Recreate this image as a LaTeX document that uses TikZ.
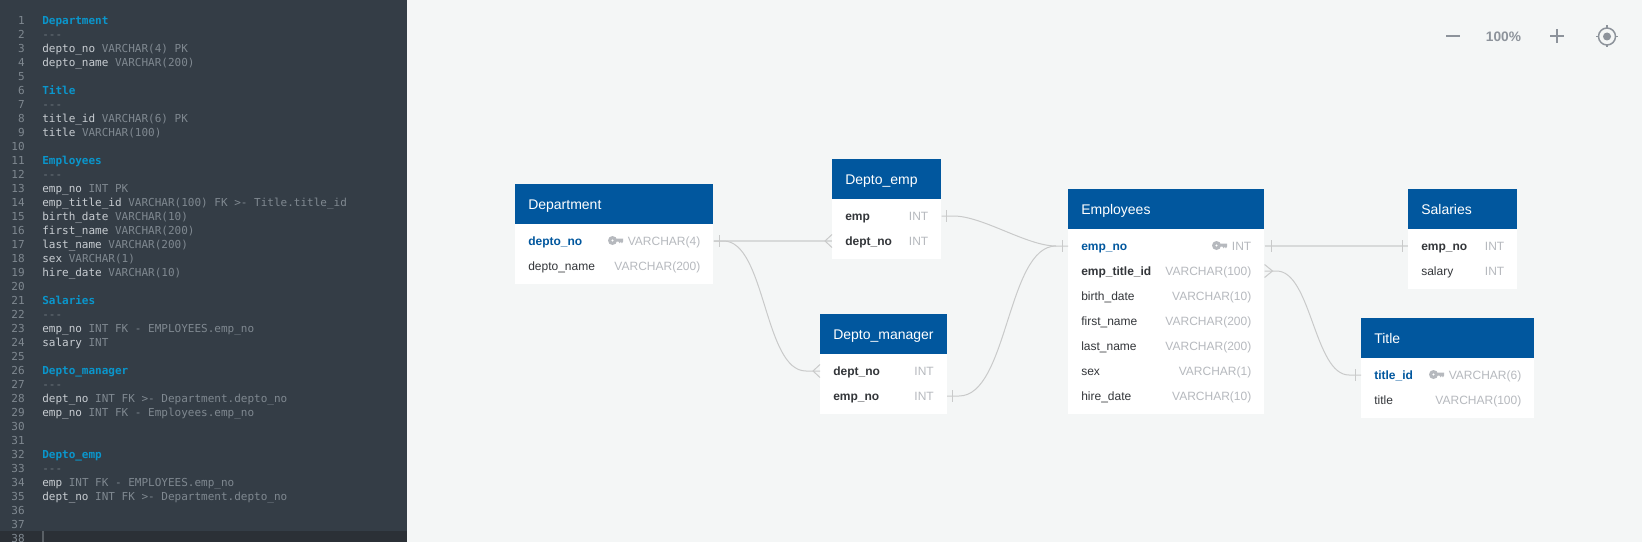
\documentclass[tikz,border=0pt]{standalone}
\usepackage{fontspec}
\setmainfont{Liberation Sans}
\newfontfamily\codefont{DejaVu Sans Mono}
\usetikzlibrary{arrows.meta,calc}
\definecolor{panelGri}{HTML}{343D46}
\definecolor{satirGri}{HTML}{2B3036}
\definecolor{zeminGri}{HTML}{F4F6F6}
\definecolor{baslikMavi}{HTML}{01579E}
\definecolor{kodMavi}{HTML}{0A96CC}
\definecolor{kodAcik}{HTML}{C8CDD2}
\definecolor{kodGri}{HTML}{7F8890}
\definecolor{tipGri}{HTML}{B6B9BE}
\definecolor{yaziKoyu}{HTML}{33363A}
\definecolor{hatGri}{HTML}{C9CACA}
\definecolor{duzHat}{HTML}{D8DADA}
\definecolor{aracGri}{HTML}{8D939B}
\def\px{0.75pt}
\tikzset{
  tblhead/.style={fill=baslikMavi,text=white,anchor=north west,inner ysep=0pt,inner xsep=13*\px,
    minimum height=40*\px,text width=(#1-26)*\px,align=left,text height=8.25pt,text depth=0.75pt,
    font=\fontsize{10.5pt}{12pt}\selectfont},
  tblbody/.style={fill=white,anchor=north west,inner sep=0pt,minimum width=#1*\px},
  rowbox/.style={anchor=west,inner sep=0pt,minimum width=#1*\px,minimum height=25*\px},
  rowtext/.style={inner sep=0pt,text height=7.2pt,text depth=1.05pt,font=\fontsize{9pt}{11pt}\selectfont},
  rowname/.style={rowtext,anchor=west,text=yaziKoyu},
  rowref/.style={rowname,font=\fontsize{9pt}{11pt}\selectfont\bfseries},
  rowkey/.style={rowref,text=baslikMavi},
  rowtype/.style={rowtext,anchor=east,text=tipGri},
  conn/.style={draw=hatGri,line width=\px},
  connflat/.style={draw=duzHat,line width=1.5*\px},
  codeline/.style={anchor=base west,inner sep=0pt,text=kodGri,font=\fontsize{8.25pt}{10pt}\codefont},
  linenum/.style={anchor=base east,inner sep=0pt,text=kodGri,font=\fontsize{8.25pt}{10pt}\codefont},
  keyicon/.pic={
    \fill[tipGri,even odd rule] (4.5,0) circle (4.5) (4.5,0) circle (1.4);
    \fill[tipGri] (8,-2) -- (15,-2) -- (15,1.2) -- (13.9,2.8) -- (12.8,1.2) -- (11.7,2.8) -- (10.6,1.2) -- (8,1.2) -- cycle;
  }
}
% #1 name, #2 x, #3 y, #4 width, #5 title, #6 rows
\newcommand{\ertable}[6]{
  \node[tblhead=#4] (#1Head) at (#2,#3) {#5};
  \foreach \i/\nm/\ty/\sty in {#6} {\global\let\rowcount\i}
  \node[tblbody=#4,minimum height={(10+25*\rowcount)*\px}] (#1Body) at (#2,#3+40) {};
  \foreach \i/\nm/\ty/\sty in {#6} {
    \node[rowbox=#4] (#1\i) at (#2,{#3+57+25*(\i-1)}) {};
    \node[\sty] (#1Name\i) at ($(#1\i.west)+(13,0)$) {\nm};
    \node[rowtype] (#1Type\i) at ($(#1\i.east)+(-13,0)$) {\ty};
  }
}
\begin{document}
\begin{tikzpicture}[x=\px,y=-\px]
\useasboundingbox (0,0) rectangle (1642,542);
\fill[zeminGri] (0,0) rectangle (1642,542);
\fill[panelGri] (0,0) rectangle (407,542);
\fill[satirGri] (0,531) rectangle (407,542);
\fill[kodGri!70!black] (42,531) rectangle (44,542);

% kod satirlari
\foreach \n in {1,...,38} \node[linenum] (num\n) at (25,{24.5+14*(\n-1)}) {\n};
\foreach \n/\txt in {1/Department,6/Title,11/Employees,21/Salaries,26/Depto\_manager,32/Depto\_emp}
  \node[codeline,text=kodMavi,font=\fontsize{8.25pt}{10pt}\codefont\bfseries] (head\n) at (42,{24.5+14*(\n-1)}) {\txt};
\foreach \n in {2,7,12,22,27,33}
  \node[codeline,text=kodGri!80!panelGri] (dash\n) at (42,{24.5+14*(\n-1)}) {-{}-{}-};
\foreach \n/\nm/\ty in {
  3/depto\_no/VARCHAR(4) PK,4/depto\_name/VARCHAR(200),
  8/title\_id/VARCHAR(6) PK,9/title/VARCHAR(100),
  13/emp\_no/INT PK,14/emp\_title\_id/VARCHAR(100) FK >- Title.title\_id,
  15/birth\_date/VARCHAR(10),16/first\_name/VARCHAR(200),17/last\_name/VARCHAR(200),
  18/sex/VARCHAR(1),19/hire\_date/VARCHAR(10),
  23/emp\_no/INT FK - EMPLOYEES.emp\_no,24/salary/INT,
  28/dept\_no/INT FK >- Department.depto\_no,29/emp\_no/INT FK - Employees.emp\_no,
  34/emp/INT FK - EMPLOYEES.emp\_no,35/dept\_no/INT FK >- Department.depto\_no}
  \node[codeline] (code\n) at (42,{24.5+14*(\n-1)}) {\textcolor{kodAcik}{\nm} \ty};

% tablolar
\ertable{dept}{515}{184}{198}{Department}{1/depto\_no/VARCHAR(4)/rowkey,2/depto\_name/VARCHAR(200)/rowname}
\ertable{depEmp}{832}{159}{109}{Depto\_emp}{1/emp/INT/rowref,2/dept\_no/INT/rowref}
\ertable{depMan}{820}{314}{126.5}{Depto\_manager}{1/dept\_no/INT/rowref,2/emp\_no/INT/rowref}
\ertable{emp}{1068}{189}{196}{Employees}{1/emp\_no/INT/rowkey,2/emp\_title\_id/VARCHAR(100)/rowref,3/birth\_date/VARCHAR(10)/rowname,4/first\_name/VARCHAR(200)/rowname,5/last\_name/VARCHAR(200)/rowname,6/sex/VARCHAR(1)/rowname,7/hire\_date/VARCHAR(10)/rowname}
\ertable{sal}{1408}{189}{109}{Salaries}{1/emp\_no/INT/rowref,2/salary/INT/rowname}
\ertable{title}{1361}{318}{173}{Title}{1/title\_id/VARCHAR(6)/rowkey,2/title/VARCHAR(100)/rowname}
\pic at (608,240.5) {keyicon};
\pic at (1212,245.5) {keyicon};
\pic at (1429,374.5) {keyicon};

% baglantilar
\draw[connflat] (dept1.east) -- (depEmp2.west);
\draw[connflat] (emp1.east) -- (sal1.west);
\draw[conn] (dept1.east) -- ++(10,0) to[out=0,in=180,looseness=0.7] ($(depMan1.west)+(-14,0)$) -- (depMan1.west);
\draw[conn] (depEmp1.east) -- ++(12,0) to[out=0,in=180,looseness=0.7] ($(emp1.west)+(-12,0)$) -- (emp1.west);
\draw[conn] (depMan2.east) -- ++(12,0) to[out=0,in=180,looseness=0.7] ($(emp1.west)+(-12,0)$);
\draw[conn] (emp2.east) -- ++(12,0) to[out=0,in=180,looseness=0.7] ($(title1.west)+(-12,0)$) -- (title1.west);

% tek ve coklu uclar
\foreach \p/\d in {dept1.east/6,depEmp1.east/5,depMan2.east/5,emp1.east/7,emp1.west/-6,sal1.west/-6,title1.west/-6}
  \draw[conn] ($(\p)+(\d,-6)$) -- ++(0,12);
\foreach \p/\d in {depEmp2.west/-7,depMan1.west/-7,emp2.east/8}
  \draw[conn] ($(\p)+(0,-6.5)$) -- ++(\d,6.5) -- ++(-\d,6.5);

% yakinlastirma araclari
\node[text=aracGri,inner sep=0pt,font=\fontsize{10.3pt}{12pt}\selectfont\bfseries] (zoomText) at (1503.5,36.5) {100\%};
\draw[aracGri,line width=2*\px] (1446,36.5) -- (1460,36.5);
\draw[aracGri,line width=2*\px] (1550,36.5) -- (1564,36.5) (1557,29.5) -- (1557,43.5);
\draw[aracGri,line width=1.5*\px] (1607,36.5) circle (8.5);
\fill[aracGri] (1607,36.5) circle (4);
\draw[aracGri,line width=1.5*\px] (1607,25.5) -- (1607,28) (1607,45) -- (1607,47.5) (1596,36.5) -- (1598.5,36.5) (1615.5,36.5) -- (1618,36.5);
\end{tikzpicture}
\end{document}
